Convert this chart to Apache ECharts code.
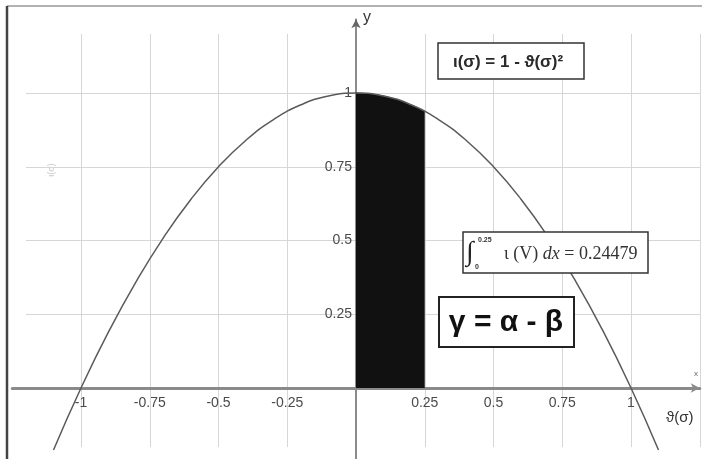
<!DOCTYPE html>
<html>
<head>
<meta charset="utf-8">
<script src="https://cdn.jsdelivr.net/npm/echarts@6/dist/echarts.min.js"></script>
<style>
  html, body { margin: 0; padding: 0; background: #fff; }
  #chart { width: 702px; height: 459px; }
</style>
</head>
<body>
<div id="chart"></div>
<script>
// curve ι(σ)
var curveX = [-1.1, -1.0, -0.9, -0.8, -0.7, -0.6, -0.5, -0.4, -0.3, -0.2, -0.1, 0,
  0.1, 0.2, 0.3, 0.4, 0.5, 0.6, 0.7, 0.8, 0.9, 1.0, 1.1];
var curveY = [-0.21, 0, 0.19, 0.36, 0.51, 0.64, 0.75, 0.84, 0.91, 0.96, 0.99, 1,
  0.99, 0.96, 0.91, 0.84, 0.75, 0.64, 0.51, 0.36, 0.19, 0, -0.21];
// shaded area 0 .. 0.25
var fillX = [0, 0.05, 0.1, 0.15, 0.2, 0.25];
var fillY = [1, 0.9975, 0.99, 0.9775, 0.96, 0.9375];
// grid lines
var gridXs = [-1, -0.75, -0.5, -0.25, 0.25, 0.5, 0.75, 1, 1.25];
var gridYs = [0.25, 0.5, 0.75, 1];

function pairs(a, b) {
  return a.map(function(v, i) { return [v, b[i]]; });
}

var gridLines = [];
gridXs.forEach(function(x) {
  gridLines.push({ coords: [[x, -0.2], [x, 1.2]] });
});
gridYs.forEach(function(y) {
  gridLines.push({ coords: [[-1.2, y], [1.25, y]] });
});

var font = '"Liberation Sans", Arial, sans-serif';
var serif = '"Liberation Serif", "DejaVu Serif", serif';

// grid box; axes are moved onto the origin with offset
var G = { left: 12.25, top: 19.25, width: 687.5, height: 442.5 };
var xMin = -1.25, xMax = 1.25, yMin = -0.25, yMax = 1.25;
var x0 = G.width * (0 - xMin) / (xMax - xMin);
var y0 = G.height * (0 - yMin) / (yMax - yMin);

var chart = echarts.init(document.getElementById('chart'));
chart.setOption({
  animation: false,
  backgroundColor: '#fff',
  grid: { left: G.left, top: G.top, width: G.width, height: G.height, outerBoundsMode: 'none', containLabel: false },
  xAxis: {
    type: 'value',
    min: xMin,
    max: xMax,
    interval: 0.25,
    position: 'bottom',
    offset: -y0,
    axisLine: {
      onZero: false,
      symbol: ['none', 'arrow'],
      symbolSize: [7, 9],
      lineStyle: { color: '#8a8a8a', width: 3 }
    },
    axisTick: { show: false },
    splitLine: { show: false },
    axisLabel: {
      margin: 8,
      color: '#4a4a4a',
      fontSize: 14,
      fontFamily: font,
      formatter: function(v) {
        return (v === 0 || Math.abs(v) === 1.25) ? '' : String(v);
      }
    }
  },
  yAxis: {
    type: 'value',
    min: yMin,
    max: yMax,
    interval: 0.25,
    position: 'left',
    offset: -x0,
    axisLine: {
      onZero: false,
      symbol: ['none', 'arrow'],
      symbolSize: [7, 9],
      lineStyle: { color: '#666', width: 1.5 }
    },
    axisTick: { show: false },
    splitLine: { show: false },
    axisLabel: {
      margin: 4,
      color: '#4a4a4a',
      fontSize: 14,
      fontFamily: font,
      formatter: function(v) {
        return (v <= 0 || v === 1.25) ? '' : String(v);
      }
    }
  },
  series: [{
    type: 'lines',
    coordinateSystem: 'cartesian2d',
    silent: true,
    z: 0,
    lineStyle: { color: '#d6d6d6', width: 1, opacity: 1 },
    data: gridLines
  }, {
    type: 'line',
    data: pairs(fillX, fillY),
    showSymbol: false,
    z: 2,
    lineStyle: { color: '#111', width: 1 },
    areaStyle: { color: '#111', opacity: 1 }
  }, {
    type: 'line',
    data: pairs(curveX, curveY),
    smooth: true,
    showSymbol: false,
    z: 3,
    lineStyle: { color: '#5a5a5a', width: 1.5 }
  }],
  graphic: [
    // frame
    { type: 'line', shape: { x1: 7, y1: 6, x2: 702, y2: 6 }, style: { stroke: '#999', lineWidth: 1.5 } },
    { type: 'line', shape: { x1: 7, y1: 6, x2: 7, y2: 459 }, style: { stroke: '#444', lineWidth: 2.5 } },
    // axis names
    { type: 'text', left: 363, top: 10, style: { text: 'y', font: '16px ' + font, fill: '#333' } },
    { type: 'text', left: 694, top: 370, style: { text: 'x', font: '8px ' + font, fill: '#666' } },
    { type: 'text', left: 666, top: 410, style: { text: 'ϑ(σ)', font: '15px ' + font, fill: '#333' } },
    { type: 'text', x: 52, y: 170, rotation: Math.PI / 2,
      style: { text: 'ι(σ)', font: '9px ' + font, fill: '#c8c8c8', align: 'center', verticalAlign: 'middle' } },
    // formula box
    { type: 'rect', z: 10, shape: { x: 438, y: 43, width: 146, height: 36 },
      style: { fill: '#fff', stroke: '#333', lineWidth: 1.5 } },
    { type: 'text', z: 11, x: 508, y: 62,
      style: { text: 'ι(σ) = 1 - ϑ(σ)²', font: 'bold 17px ' + font, fill: '#2a2a2a', align: 'center', verticalAlign: 'middle' } },
    // integral box
    { type: 'rect', z: 10, shape: { x: 463, y: 232, width: 185, height: 41 },
      style: { fill: '#fff', stroke: '#333', lineWidth: 1.5 } },
    { type: 'text', z: 11, x: 466, y: 253,
      style: { text: '∫', font: 'italic 27px ' + serif, fill: '#222', verticalAlign: 'middle' } },
    { type: 'text', z: 11, x: 478, y: 240,
      style: { text: '0.25', font: 'bold 7px ' + font, fill: '#333', verticalAlign: 'middle' } },
    { type: 'text', z: 11, x: 475, y: 267,
      style: { text: '0', font: 'bold 7px ' + font, fill: '#333', verticalAlign: 'middle' } },
    { type: 'text', z: 11, x: 504, y: 254,
      style: {
        text: '{a|ι (V) }{i|dx}{a| = 0.24479}',
        verticalAlign: 'middle',
        rich: {
          a: { font: '18px ' + serif, fill: '#333' },
          i: { font: 'italic 18px ' + serif, fill: '#333' }
        }
      } },
    // gamma box
    { type: 'rect', z: 10, shape: { x: 439, y: 297, width: 135, height: 50 },
      style: { fill: '#fff', stroke: '#222', lineWidth: 2 } },
    { type: 'text', z: 11, x: 506, y: 323,
      style: { text: 'γ = α - β', font: 'bold 30px ' + font, fill: '#111', align: 'center', verticalAlign: 'middle' } }
  ]
});
</script>
</body>
</html>
